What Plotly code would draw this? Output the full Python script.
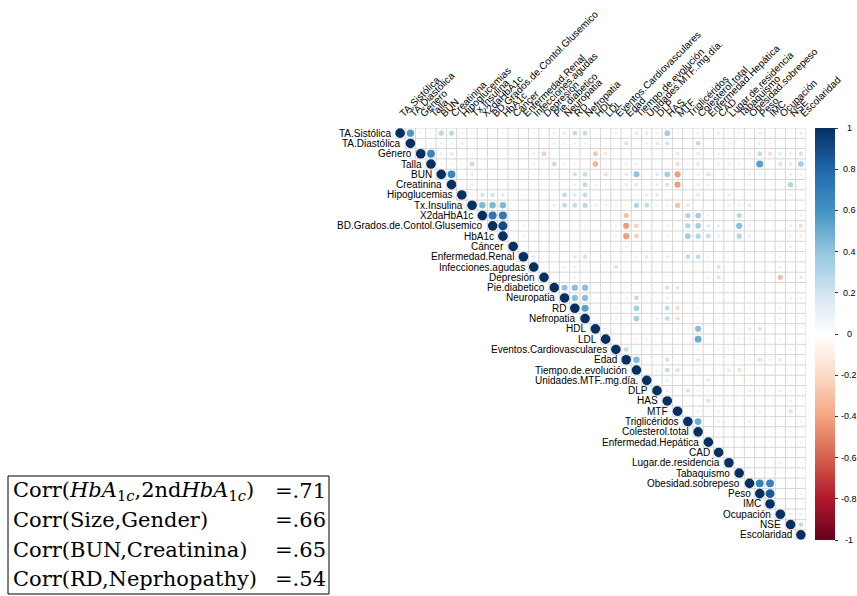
import plotly.graph_objects as go

variables = [
    "TA.Sistólica", "TA.Diastólica", "Género", "Talla", "BUN", "Creatinina",
    "Hipoglucemias", "Tx.Insulina", "X2daHbA1c", "BD.Grados.de.Contol.Glusemico",
    "HbA1c", "Cáncer", "Enfermedad.Renal", "Infecciones.agudas", "Depresión",
    "Pie.diabetico", "Neuropatia", "RD", "Nefropatia", "HDL", "LDL",
    "Eventos.Cardiovasculares", "Edad", "Tiempo.de.evolución", "Unidades.MTF..mg.día.",
    "DLP", "HAS", "MTF", "Triglicéridos", "Colesterol.total", "Enfermedad.Hepática",
    "CAD", "Lugar.de.residencia", "Tabaquismo", "Obesidad.sobrepeso", "Peso", "IMC",
    "Ocupación", "NSE", "Escolaridad",
]

# diagonal (each variable with itself)
diag_r = [1.0] * len(variables)

# upper triangle: for row k (1-based), the column numbers with a visible circle ...
cols_by_row = [
    [2, 3, 4, 5, 6, 7, 8, 11, 14, 16, 17, 18, 19, 22, 24, 25, 26, 27, 28, 29, 30, 31, 32, 33, 34, 36, 37, 39, 40],
    [3, 4, 5, 6, 7, 8, 16, 17, 18, 19, 20, 21, 23, 25, 26, 27, 30, 33, 36, 37],
    [4, 5, 6, 7, 8, 14, 15, 17, 18, 20, 21, 28, 30, 32, 33, 34, 35, 36, 37, 38, 39, 40],
    [5, 6, 7, 8, 14, 15, 16, 17, 18, 20, 21, 23, 24, 28, 29, 30, 32, 33, 34, 36, 38, 39, 40],
    [6, 7, 8, 10, 14, 16, 18, 19, 20, 21, 22, 23, 24, 26, 27, 28, 30, 31, 33, 35, 36, 39, 40],
    [7, 8, 15, 16, 18, 19, 20, 21, 23, 24, 26, 27, 28, 30, 31, 35, 37, 38, 39],
    [8, 9, 10, 11, 12, 13, 16, 17, 18, 19, 24, 25, 26, 30, 33, 36, 39],
    [9, 10, 11, 12, 14, 15, 16, 17, 18, 19, 20, 21, 22, 23, 24, 25, 26, 27, 28, 29, 33, 34, 35, 37, 39],
    [10, 11, 12, 13, 14, 22, 23, 29, 30, 31, 34, 35, 40],
    [11, 12, 13, 15, 16, 18, 19, 22, 23, 24, 27, 29, 30, 31, 32, 34, 35, 39, 40],
    [12, 13, 14, 16, 18, 22, 23, 24, 27, 29, 30, 31, 32, 33, 34, 35, 39, 40],
    [13, 14, 15, 19, 22, 23, 29, 33, 38, 39],
    [14, 15, 16, 17, 18, 19, 22, 23, 24, 25, 27, 29, 30, 31, 32, 33, 34, 38, 39, 40],
    [15, 16, 17, 18, 19, 22, 27, 31, 32, 38, 40],
    [16, 17, 18, 19, 27, 28, 31, 32, 34, 35, 36, 38, 40],
    [17, 18, 19, 21, 23, 25, 27, 28, 29, 30, 32, 36, 39],
    [18, 19, 21, 22, 23, 24, 27, 30, 31, 36, 39, 40],
    [19, 20, 21, 22, 23, 24, 25, 27, 28, 30, 35, 38, 40],
    [20, 21, 22, 23, 24, 25, 26, 27, 28, 32, 33, 35, 38],
    [21, 28, 29, 30, 34, 35, 36],
    [24, 25, 28, 30, 34, 35, 36, 38],
    [23, 30, 32, 33, 39],
    [24, 27, 28, 29, 30, 31, 34, 35, 36, 37, 38],
    [25, 26, 27, 28, 30, 31, 33, 34, 38],
    [26, 27, 31, 35],
    [27, 29, 30, 31, 32, 34, 35, 36, 37, 38, 39],
    [31, 32, 33, 39],
    [29, 30, 31, 32, 34, 35, 36, 37, 39],
    [30, 32, 33, 35, 36, 37, 40],
    [32, 34, 37, 39],
    [32, 33, 35, 37, 40],
    [33, 34, 35, 40],
    [36, 38, 40],
    [36, 38],
    [36, 37, 38],
    [37, 39, 40],
    [],
    [39, 40],
    [40],
]

# ... and the correlation read for each of those cells
r_by_row = [
    [.58, .08, .08, .28, .28, .08, .08, -.08, -.08, .12, .12, .25, .25, .10, .15, .15, .10, .35, -.08, .08, .10, -.08, -.12, .05, .08, .12, .05, .05, -.15],
    [.08, .08, .10, .10, -.12, .05, .10, .10, .10, .10, .08, .05, -.20, .10, .15, .20, .25, -.10, .12, .08],
    [.66, .10, .15, .05, .08, -.10, -.25, .05, .05, -.28, -.15, -.15, -.15, -.10, -.10, .10, -.10, .25, -.20, .15, .12, .20],
    [.08, .08, -.08, .25, -.10, -.08, .25, .08, .08, -.35, -.08, -.12, -.12, -.20, .10, -.15, -.12, -.10, .08, .55, .20, .15, .35],
    [.65, .05, .12, -.05, -.08, .08, .20, .25, .05, -.20, .05, .15, .40, .15, .35, -.42, -.12, -.20, -.10, -.10, .10, .12, -.10],
    [.05, .12, -.08, .05, .10, .25, .10, -.08, .12, .15, .12, .20, -.42, -.12, -.10, -.10, .05, .05, .30],
    [.08, .20, .20, .15, .05, .05, .05, .25, .15, .25, .05, .12, .15, .15, .12, -.08, -.10],
    [.45, .45, .45, .05, .05, .05, .12, .25, .25, .28, -.12, -.10, .10, -.08, .30, .25, .08, .10, -.30, .15, -.12, .10, .15, .08, .05],
    [.72, .71, .05, .08, .05, -.10, -.30, .30, .35, .10, .28, .08, -.10],
    [.90, .05, .08, .05, .05, .05, -.08, -.10, -.42, -.25, -.10, .30, .35, .15, .12, .42, .10, -.12, -.20],
    [.05, .08, .05, .05, .05, -.10, -.42, -.25, -.10, .35, .30, .25, .12, .05, .30, .12, -.10, -.12],
    [.05, .05, .05, .05, -.08, .10, -.08, .05, .10, .10],
    [.15, .05, .05, .05, .15, .20, -.08, -.08, -.10, .15, .12, .25, .25, .08, .05, -.05, .05, .10, .05, .05],
    [.05, .05, .10, .10, .05, -.20, .05, -.08, .20, .10, .05],
    [.05, .05, .10, .05, .05, .05, .10, -.20, .05, .05, .05, -.30, .15],
    [.40, .42, .42, .05, -.08, -.08, .20, -.15, .10, -.08, -.08, .10, .05],
    [.42, .42, .05, .05, .10, .25, .12, .05, .05, -.08, .10, .10],
    [.54, .05, -.08, .10, .05, .35, .05, .25, -.20, -.08, -.08, .10, -.08],
    [.05, .05, .10, .05, .35, .05, .12, .25, -.20, -.08, -.08, -.08, .10],
    [.12, -.08, -.08, .42, -.08, -.15, -.20],
    [-.08, -.08, .05, .50, .08, -.08, -.08, -.08],
    [.25, -.08, -.08, -.08, .08],
    [.45, .20, -.08, -.08, -.15, -.08, -.08, -.10, -.20, -.10, .15],
    [.05, .10, .25, -.20, -.08, .05, -.15, -.20, .05],
    [.05, .12, -.15, -.08],
    [.12, .20, .08, -.08, .05, -.08, .10, .10, .05, .10, -.08],
    [-.20, .05, -.08, -.10],
    [.05, .10, .05, .10, .05, .05, .10, .05, -.20],
    [.50, .10, .05, .10, .05, .05, .10],
    [.05, .05, .05, -.10],
    [.05, .05, .05, .05, -.08],
    [.05, .05, .05, -.05],
    [-.08, .10, .05],
    [.05, .05],
    [.68, .68, .05],
    [.85, .05, .10],
    [],
    [.12, .12],
    [.25],
]

box_left = ["Corr(<i>HbA</i><sub>1<i>c</i></sub>,2nd<i>HbA</i><sub>1<i>c</i></sub>)",
            "Corr(Size,Gender)", "Corr(BUN,Creatinina)", "Corr(RD,Neprhopathy)"]
box_right = ["=.71", "=.66", "=.65", "=.54"]

colorbar_ticks = [1, 0.8, 0.6, 0.4, 0.2, 0, -0.2, -0.4, -0.6, -0.8, -1]

# corrplot RdBu palette
rdbu = ["#67001F", "#B2182B", "#D6604D", "#F4A582", "#FDDBC7", "#FFFFFF",
        "#D1E5F0", "#92C5DE", "#4393C3", "#2166AC", "#053061"]
colorscale = [[k / 10, c] for k, c in enumerate(rdbu)]

# ---------------- layout geometry (page pixels; body margin removed below) ----------------
W, H = 857, 596
PAGE_L, PAGE_R, PAGE_T, PAGE_B = 395, 806, 128, 540   # plot-area edges in page pixels
L, T = PAGE_L, PAGE_T
R, B = W - PAGE_R, H - PAGE_B
PW, PH = W - L - R, H - T - B
n = len(variables)
cell_px = PW / n


def px2x(px):
    return (px - PAGE_L) / PW


def py2y(py):
    return (PAGE_B - py) / PH


# assemble cells
xs, ys, rs = [], [], []
for k in range(n):
    xs.append(k + 1)
    ys.append(k + 1)
    rs.append(diag_r[k])
for k, (cs, vs) in enumerate(zip(cols_by_row, r_by_row)):
    assert len(cs) == len(vs), k
    for c, v in zip(cs, vs):
        xs.append(c)
        ys.append(k + 1)
        rs.append(v)
sizes = [0.93 * cell_px * abs(v) ** 0.5 for v in rs]

# grid lines of the upper triangle
gx, gy = [], []
for k in range(n + 1):
    yb = k + 0.5
    x0 = max(k - 0.5, 0.5)
    gx += [x0, n + 0.5, None]
    gy += [yb, yb, None]
    xb = k + 0.5
    y1 = min(k + 1.5, n + 0.5)
    gx += [xb, xb, None]
    gy += [0.5, y1, None]

fig = go.Figure()
fig.add_trace(go.Scatter(x=gx, y=gy, mode="lines",
                         line=dict(color="#D6D6D6", width=1),
                         hoverinfo="skip", showlegend=False))
fig.add_trace(go.Scatter(
    x=xs, y=ys, mode="markers", showlegend=False,
    marker=dict(size=sizes, color=rs, cmin=-1, cmax=1, colorscale=colorscale,
                line=dict(width=0), opacity=1,
                colorbar=dict(
                    x=px2x(815), xanchor="left", xref="paper", xpad=0, ypad=0,
                    y=0.5, yanchor="middle", len=1, lenmode="fraction",
                    thickness=20, thicknessmode="pixels",
                    outlinewidth=0, tickvals=colorbar_ticks,
                    ticks="outside", ticklen=3, tickcolor="#333",
                    showticklabels=False,
                )),
    hovertemplate="%{y}, %{x}: %{marker.color}<extra></extra>",
))

# colour-bar tick labels, centred to the right of the bar
for t in colorbar_ticks:
    fig.add_annotation(x=px2x(849), y=(t + 1) / 2, xref="paper", yref="paper",
                       text=f"{t:g}", showarrow=False, xanchor="center", yanchor="middle",
                       font=dict(family="Liberation Sans", size=9, color="#000"))

# row labels next to the diagonal
for k, name in enumerate(variables):
    fig.add_annotation(x=k + 0.5, y=k + 1, xref="x", yref="y", text=name,
                       showarrow=False, xanchor="right", yanchor="middle",
                       xshift=-2, font=dict(family="Liberation Sans", size=10, color="#000"))

# text box
fig.add_shape(type="rect", xref="paper", yref="paper",
              x0=px2x(8), x1=px2x(329), y0=py2y(594), y1=py2y(476),
              line=dict(color="#000", width=1), fillcolor="rgba(0,0,0,0)")
line_y = [491, 520, 550, 579]
for t1, t2, yy in zip(box_left, box_right, line_y):
    fig.add_annotation(x=px2x(11), y=py2y(yy), xref="paper", yref="paper", text=t1,
                       showarrow=False, xanchor="left", yanchor="middle",
                       font=dict(family="DejaVu Serif", size=21, color="#000"))
    fig.add_annotation(x=px2x(273), y=py2y(yy), xref="paper", yref="paper", text=t2,
                       showarrow=False, xanchor="left", yanchor="middle",
                       font=dict(family="DejaVu Serif", size=21, color="#000"))

fig.update_layout(
    width=W, height=H, margin=dict(l=L, r=R, t=T, b=B, autoexpand=False),
    paper_bgcolor="white", plot_bgcolor="white",
    xaxis=dict(range=[0.5, n + 0.5], side="top", tickvals=list(range(1, n + 1)),
               ticktext=variables, tickangle=-45, showgrid=False, zeroline=False,
               showline=False, ticks="", ticklabelstandoff=6,
               tickfont=dict(family="Liberation Sans", size=10, color="#000")),
    yaxis=dict(range=[n + 0.5, 0.5], showticklabels=False, showgrid=False,
               zeroline=False, showline=False),
)

fig.write_html("out.html", config={"displayModeBar": False},
               post_script="document.body.style.margin='0px';document.body.style.overflow='hidden';")
